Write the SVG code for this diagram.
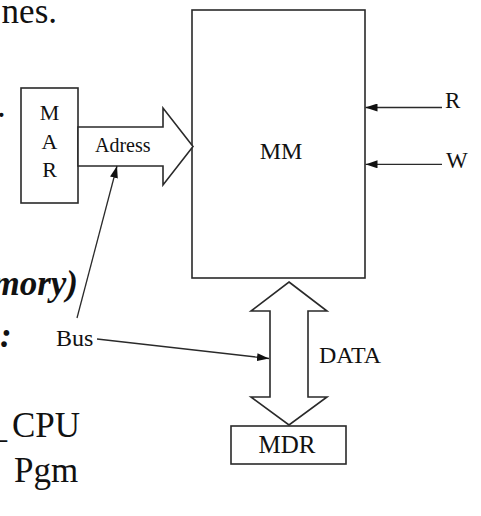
<svg xmlns="http://www.w3.org/2000/svg" width="481" height="516" viewBox="0 0 481 516">
<defs>
<style>
.t{font-family:"Liberation Serif","Times New Roman",serif;fill:#111}
.big{font-size:35px}
.bi{font-style:italic;font-weight:bold}
.box{fill:#fff;stroke:#2a2a2a;stroke-width:1.6}
.ln{fill:none;stroke:#2a2a2a;stroke-width:1.3}
</style>
<marker id="ah" viewBox="0 0 12 8" refX="12" refY="4" markerWidth="12" markerHeight="8" markerUnits="userSpaceOnUse" orient="auto">
<path d="M0,0 L12,4 L0,8 Z" fill="#111"/>
</marker>
</defs>
<rect width="481" height="516" fill="#fff"/>

<g id="background-text">
<text class="t big" x="57" y="23" text-anchor="end">nes.</text>
<text class="t big" x="-3" y="117">.</text>
<text class="t big bi" x="78" y="295" text-anchor="end">mory)</text>
<text class="t big bi" x="0" y="347">:</text>
<text class="t big" x="-10.5" y="437">_</text>
<text class="t big" x="12" y="437">CPU</text>
<text class="t big" x="14" y="482">Pgm</text>
</g>

<g id="MM">
<rect class="box" x="192" y="10" width="173" height="268"/>
<text class="t" x="281" y="159" font-size="24" text-anchor="middle">MM</text>
</g>

<g id="MAR">
<rect class="box" x="21" y="88" width="57" height="115"/>
<text class="t" x="49.5" y="120" font-size="22" text-anchor="middle">M</text>
<text class="t" x="49.5" y="149" font-size="22" text-anchor="middle">A</text>
<text class="t" x="49.5" y="177" font-size="22" text-anchor="middle">R</text>
</g>

<g id="MDR">
<rect class="box" x="231" y="426" width="115" height="38"/>
<text class="t" x="287" y="453" font-size="25" text-anchor="middle">MDR</text>
</g>

<g id="Adress">
<polygon class="box" points="78,127 163,127 163,108 193,146.5 163,185 163,166 78,166"/>
<text class="t" x="95" y="152" font-size="20">Adress</text>
</g>

<g id="DATA">
<polygon class="box" points="289,282 327,311 308,311 308,397 327,397 289,425 251,397 270,397 270,311 251,311"/>
<text class="t" x="319" y="363" font-size="24">DATA</text>
</g>

<g id="labels">
<text class="t" x="445" y="108" font-size="23">R</text>
<text class="t" x="446" y="168" font-size="23">W</text>
<text class="t" x="56" y="346" font-size="24">Bus</text>
</g>

<g id="connectors">
<line class="ln" x1="442" y1="107.5" x2="365.5" y2="107.5" marker-end="url(#ah)"/>
<line class="ln" x1="442" y1="164.3" x2="365.5" y2="164.3" marker-end="url(#ah)"/>
<line class="ln" x1="77" y1="318" x2="117" y2="166" marker-end="url(#ah)"/>
<line class="ln" x1="97" y1="339" x2="269" y2="358.5" marker-end="url(#ah)"/>
</g>
</svg>
